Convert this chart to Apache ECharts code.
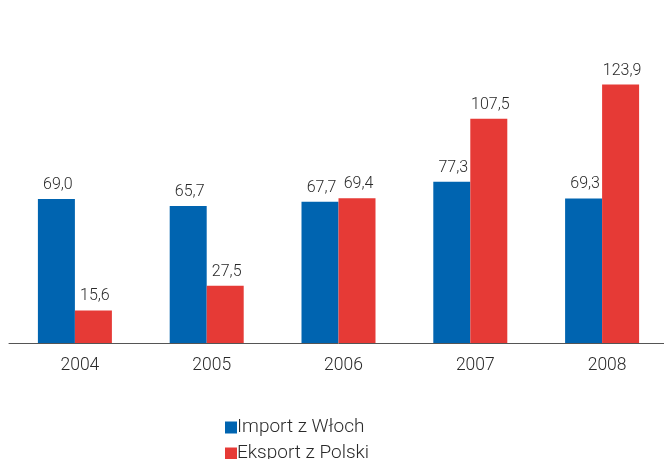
<!DOCTYPE html>
<html><head><meta charset="utf-8">
<script src="https://cdn.jsdelivr.net/npm/echarts@6/dist/echarts.min.js"></script>
<style>html,body{margin:0;padding:0;background:#fff;overflow:hidden}#c{width:672px;height:459px}</style>
</head><body><div id="c"></div>
<script>
const categories = ['2004','2005','2006','2007','2008'];
const importWlochy = [69.0, 65.7, 67.7, 77.3, 69.3];
const eksportPolska = [15.6, 27.5, 69.4, 107.5, 123.9];
const seriesNames = ['Import z Włoch', 'Eksport z Polski'];

const font = "Roboto, 'Liberation Sans', sans-serif";
const chart = echarts.init(document.getElementById('c'));
const lbl = {show:true, position:'top', distance:6, color:'#2a2a2a', fontSize:16, fontFamily:font,
  fontWeight:300, padding:[0,0,0,3],
  formatter: p => p.value.toFixed(1).replace('.', ',')};
const legBase = {orient:'horizontal', left:220, itemWidth:12, itemHeight:12,
  icon:'rect', textStyle:{color:'#2a2a2a', fontSize:19, fontFamily:font, fontWeight:300, padding:[0,0,0,-5]}};
chart.setOption({
  animation:false,
  grid:{left:9, width:659, top:51, bottom:116, containLabel:false},
  legend:[
    Object.assign({}, legBase, {top:413, data:[seriesNames[0]]}),
    Object.assign({}, legBase, {top:439, data:[seriesNames[1]]})
  ],
  xAxis:{type:'category', data:categories,
    axisLine:{lineStyle:{color:'#555', width:1}}, axisTick:{show:false},
    axisLabel:{color:'#2a2a2a', fontSize:17.5, fontFamily:font, fontWeight:300, margin:14, padding:[0,0,0,10]}},
  yAxis:{type:'value', min:0, max:140, show:false, splitLine:{show:false}},
  series:[
    {name:seriesNames[0], type:'bar', data:importWlochy, barWidth:37, barGap:'0%',
      itemStyle:{color:'#0064b0'}, label:lbl},
    {name:seriesNames[1], type:'bar', data:eksportPolska, barWidth:37,
      itemStyle:{color:'#e63a36'}, label:lbl}
  ]
});
</script></body></html>
